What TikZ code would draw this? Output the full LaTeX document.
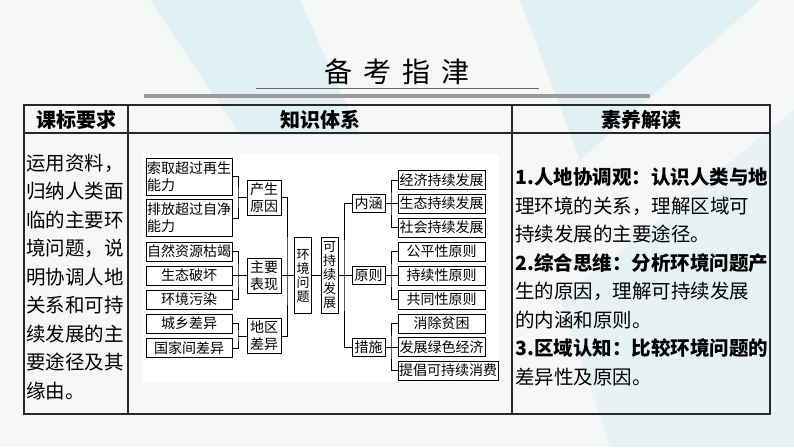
\documentclass[tikz,border=0pt]{standalone}
\usepackage{fontspec}
\setmainfont{Noto Sans CJK SC}
\usepackage{tikz}
\usetikzlibrary{positioning, calc}
\definecolor{bgcol}{RGB}{246,248,248}
\definecolor{teallight}{RGB}{220,239,241}
\definecolor{barcol}{RGB}{155,155,155}
\definecolor{rulecol}{RGB}{40,40,40}

\begin{document}
\begin{tikzpicture}[x=1pt, y=-1pt, thick]
		% Define styles
		\tikzstyle{box} = [draw, rectangle, fill=white, line width=0.8pt, inner sep=0pt, align=center, font=\fontsize{14}{17}\selectfont]
		\tikzstyle{leaf} = [box, minimum width=86, minimum height=19]
		\tikzstyle{twoline} = [box, minimum width=86, minimum height=37, text width=84, align=left]
		\tikzstyle{mid} = [box, minimum width=34, minimum height=35]
		\tikzstyle{tall} = [box, minimum width=17, minimum height=76, font=\fontsize{13}{14}\selectfont]
		\tikzstyle{small} = [box, minimum width=33, minimum height=18]
		\tikzstyle{goal} = [box, minimum width=87, minimum height=19]
		\tikzstyle{link} = [draw, line width=0.8pt]
		\tikzstyle{head} = [font=\fontsize{20}{24}\selectfont\bfseries]

		% Background
		\useasboundingbox (0,0) rectangle (794,447);
		\fill [bgcol] (0,0) rectangle (794,447);
		\fill [teallight, opacity=0.8] (150,0) -- (300,0) -- (360,135) -- (240,135) -- cycle;
		\fill [teallight, opacity=0.8] (520,0) -- (760,0) -- (580,160) -- cycle;
		\fill [teallight, opacity=0.6] (794,110) -- (794,447) -- (610,447) -- (560,300) -- cycle;

		% Title
		\node [font=\fontsize{28}{30}\selectfont] (title) at (397,72) {备\hspace{11pt}考\hspace{11pt}指\hspace{11pt}津};
		\draw [rulecol!70, line width=0.8pt] (256,88) -- (539,88);
		\draw [barcol, line width=3.5pt] (144,96) -- (650,96);

		% Table
		\draw [rulecol, line width=1.2pt] (24,105) rectangle (770,414);
		\draw [rulecol, line width=1.2pt] (24,133) -- (770,133);
		\draw [rulecol, line width=1.2pt] (128,105) -- (128,414);
		\draw [rulecol, line width=1.2pt] (512,105) -- (512,414);

		% Header row
		\node [head] (h1) at (76,120) {课标要求};
		\node [head] (h2) at (320,120) {知识体系};
		\node [head] (h3) at (641,120) {素养解读};

		% Left column
		\node [font=\fontsize{19.5}{28.5}\selectfont, align=left, inner sep=0pt, anchor=west] (req) at (26,277) {运用资料，\\归纳人类面\\临的主要环\\境问题，说\\明协调人地\\关系和可持\\续发展的主\\要途径及其\\缘由。};

		% Right column
		\node [font=\fontsize{19.5}{28.5}\selectfont, align=left, inner sep=0pt, anchor=west] (lit) at (515,277) {\textbf{1.人地协调观：认识人类与地}\\理环境的关系，理解区域可\\持续发展的主要途径。\\\textbf{2.综合思维：分析环境问题产}\\生的原因，理解可持续发展\\的内涵和原则。\\\textbf{3.区域认知：比较环境问题的}\\差异性及原因。};

		% Knowledge diagram
		\fill [white] (142,154) rectangle (499,382);

		\node [twoline] (need1) at (189,176.5) {索取超过再生\\能力};
		\node [twoline] (need2) at (189,218) {排放超过自净\\能力};
		\node [leaf] (res) at (189,251.5) {自然资源枯竭};
		\node [leaf] (eco) at (189,275.5) {生态破坏};
		\node [leaf] (pol) at (189,299.5) {环境污染};
		\node [leaf] (urb) at (189,323.5) {城乡差异};
		\node [leaf] (nat) at (189,348) {国家间差异};

		\node [mid] (cause) at (264,197.5) {产生\\原因};
		\node [mid] (sign) at (264,275.5) {主要\\表现};
		\node [mid] (region) at (264,336) {地区\\差异};

		\node [tall] (prob) at (303,275.5) {环\\境\\问\\题};
		\node [tall] (sust) at (329.5,275.5) {可\\持\\续\\发\\展};

		\node [small] (conn) at (368.5,203.5) {内涵};
		\node [small] (prin) at (368.5,275.5) {原则};
		\node [small] (meas) at (368.5,347) {措施};

		\node [goal] (e1) at (441.5,180) {经济持续发展};
		\node [goal] (e2) at (441.5,203.5) {生态持续发展};
		\node [goal] (e3) at (441.5,227.5) {社会持续发展};
		\node [goal] (p1) at (441.5,251.5) {公平性原则};
		\node [goal] (p2) at (441.5,275.5) {持续性原则};
		\node [goal] (p3) at (441.5,299.5) {共同性原则};
		\node [goal] (m1) at (441.5,323.5) {消除贫困};
		\node [goal] (m2) at (441.5,347) {发展绿色经济};
		\node [goal, minimum width=100] (m3) at (448,370.5) {提倡可持续消费};

		% Bracket junctions
		\coordinate (jcause) at (238,197.5);
		\coordinate (jsign) at (238,275.5);
		\coordinate (jregion) at (238,336);
		\coordinate (jprob) at (287,275.5);
		\coordinate (jsust) at (344,275.5);
		\coordinate (jconn) at (391,203.5);
		\coordinate (jprin) at (391,275.5);
		\coordinate (jmeas) at (391,347);

		% Connectors
		\draw [link] (need1.east) -| (jcause) |- (need2.east);
		\draw [link] (jcause) -- (cause.west);
		\draw [link] (res.east) -| (jsign) |- (pol.east);
		\draw [link] (eco.east) -- (sign.west);
		\draw [link] (urb.east) -| (jregion) |- (nat.east);
		\draw [link] (jregion) -- (region.west);

		\draw [link] (cause.east) -| (jprob) |- (region.east);
		\draw [link] (sign.east) -- (prob.west);
		\draw [link] (prob.east) -- (sust.west);

		\draw [link] (conn.west) -| (jsust) |- (meas.west);
		\draw [link] (sust.east) -- (prin.west);

		\draw [link] (e1.west) -| (jconn) |- (e3.west);
		\draw [link] (conn.east) -- (e2.west);
		\draw [link] (p1.west) -| (jprin) |- (p3.west);
		\draw [link] (prin.east) -- (p2.west);
		\draw [link] (m1.west) -| (jmeas) |- (m3.west);
		\draw [link] (meas.east) -- (m2.west);

	\end{tikzpicture}
\end{document}
